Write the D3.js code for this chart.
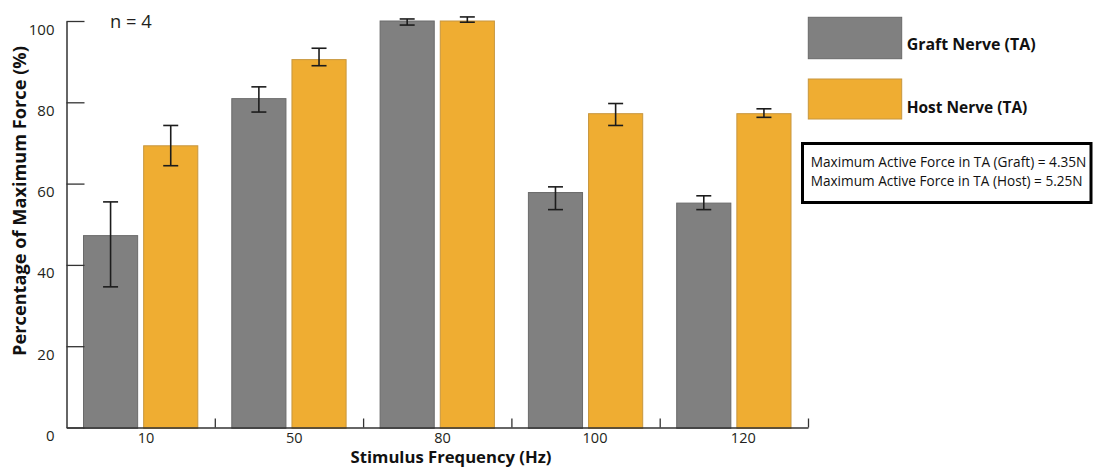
<!DOCTYPE html>
<html>
<head>
<meta charset="utf-8">
<script src="https://cdn.jsdelivr.net/npm/d3@7"></script>
<style>
  html, body { margin: 0; padding: 0; background: #fff; }
  svg { display: block; font-family: "Open Sans", "DejaVu Sans", sans-serif; }
</style>
</head>
<body>
<svg id="chart" width="1093" height="468"></svg>
<script>
// Stimulus frequencies (Hz)
const categories = ["10", "50", "80", "100", "120"];
const seriesNames = ["Graft Nerve (TA)", "Host Nerve (TA)"];

// Mean percentage of maximum force
const graftMean = [47.2, 80.9, 100.0, 57.8, 55.2];
const hostMean  = [69.3, 90.5, 100.0, 77.2, 77.2];

// Error bar ends (lower / upper)
const graftErrLow  = [34.6, 77.6, 99.0, 53.6, 53.6];
const graftErrHigh = [55.5, 83.8, 100.5, 59.2, 57.0];
const hostErrLow   = [64.4, 89.0, 99.7, 74.3, 76.3];
const hostErrHigh  = [74.3, 93.3, 101.0, 79.7, 78.4];

const yTicks = [0, 20, 40, 60, 80, 100];

const infoLines = [
  "Maximum Active Force in TA (Graft) = 4.35N",
  "Maximum Active Force in TA (Host) = 5.25N"
];

const colors = { "Graft Nerve (TA)": "#808080", "Host Nerve (TA)": "#EFAD32" };
const edges  = { "Graft Nerve (TA)": "#6a6a6a", "Host Nerve (TA)": "#c7963e" };

const svg = d3.select("#chart");

const plot = { left: 66.5, right: 808, top: 21, bottom: 427.5 };

const x0 = d3.scaleBand().domain(categories).range([plot.left, plot.right]).padding(0);
const groupPad = 17;
const x1 = d3.scaleBand().domain(seriesNames)
  .range([groupPad, x0.bandwidth() - groupPad]).paddingInner(0.1).paddingOuter(0);
const y = d3.scaleLinear().domain([0, 100]).range([plot.bottom, plot.top]);

const rows = [];
categories.forEach((c, i) => {
  rows.push({ cat: c, s: seriesNames[0], v: graftMean[i], lo: graftErrLow[i], hi: graftErrHigh[i] });
  rows.push({ cat: c, s: seriesNames[1], v: hostMean[i], lo: hostErrLow[i], hi: hostErrHigh[i] });
});

// bars
svg.append("g").selectAll("rect").data(rows).join("rect")
  .attr("x", d => x0(d.cat) + x1(d.s))
  .attr("y", d => y(d.v))
  .attr("width", x1.bandwidth())
  .attr("height", d => y(0) - y(d.v) + 0.8)
  .attr("fill", d => colors[d.s])
  .attr("stroke", d => edges[d.s])
  .attr("stroke-width", 1);

// error bars
const capW = 15;
const eb = svg.append("g").attr("stroke", "#1c1c1c").attr("stroke-width", 1.6).attr("fill", "none");
rows.forEach(d => {
  const cx = x0(d.cat) + x1(d.s) + x1.bandwidth() / 2;
  eb.append("line").attr("x1", cx).attr("x2", cx).attr("y1", y(d.lo)).attr("y2", y(d.hi));
  eb.append("line").attr("x1", cx - capW / 2).attr("x2", cx + capW / 2).attr("y1", y(d.lo)).attr("y2", y(d.lo));
  eb.append("line").attr("x1", cx - capW / 2).attr("x2", cx + capW / 2).attr("y1", y(d.hi)).attr("y2", y(d.hi));
});

// y axis: ticks point inward
const yAxis = svg.append("g")
  .attr("transform", `translate(${plot.left},0)`)
  .call(d3.axisLeft(y).tickValues(yTicks).tickSize(-18).tickSizeOuter(0).tickPadding(12));
yAxis.select(".domain").attr("stroke", "#333").attr("stroke-width", 1.5);
yAxis.selectAll(".tick line").attr("stroke", "#333").attr("stroke-width", 1.3);
yAxis.selectAll(".tick text")
  .attr("dy", null).attr("y", 7)
  .attr("dominant-baseline", "central")
  .attr("fill", "#231f20")
  .style("font-size", "15px")
  .style("font-family", "'Open Sans', sans-serif");

// x axis: group separators ticks
const xi = d3.scaleLinear().domain([0, categories.length]).range([plot.left, plot.right]);
const xAxis = svg.append("g")
  .attr("transform", `translate(0,${plot.bottom})`)
  .call(d3.axisBottom(xi).tickValues(d3.range(1, categories.length + 1)).tickSize(-9).tickSizeOuter(0).tickFormat(""));
xAxis.select(".domain").attr("stroke", "#333").attr("stroke-width", 1.5);
xAxis.selectAll(".tick line").attr("stroke", "#333").attr("stroke-width", 1.3);

// category labels
svg.append("g").selectAll("text").data(categories).join("text")
  .attr("x", d => x0(d) + x0.bandwidth() / 2 - 3)
  .attr("y", 437)
  .attr("dominant-baseline", "central")
  .attr("fill", "#231f20")
  .style("font-size", "14.5px")
  .text(d => d);

// axis titles
svg.append("text")
  .attr("x", 451).attr("y", 456.5)
  .attr("text-anchor", "middle").attr("dominant-baseline", "central")
  .style("font-weight", "bold").style("font-size", "14.5px").attr("fill", "#111")
  .text("Stimulus Frequency (Hz)");

svg.append("text")
  .attr("transform", "translate(18.5,201) rotate(-90)")
  .attr("text-anchor", "middle").attr("dominant-baseline", "central")
  .style("font-weight", "bold").style("font-size", "14.5px").attr("fill", "#111")
  .text("Percentage of Maximum Force (%)");

// sample size
svg.append("text")
  .attr("x", 110).attr("y", 20).attr("dominant-baseline", "central")
  .style("font-size", "16px").attr("fill", "#231f20")
  .text("n = 4");

// legend
const legend = svg.append("g");
const legendRows = [
  { s: seriesNames[0], y: 17.3, h: 41.4, ty: 44.3 },
  { s: seriesNames[1], y: 79, h: 40, ty: 106.7 }
];
legendRows.forEach(r => {
  legend.append("rect")
    .attr("x", 808.3).attr("y", r.y).attr("width", 93.4).attr("height", r.h)
    .attr("fill", colors[r.s]).attr("stroke", edges[r.s]).attr("stroke-width", 1);
  legend.append("text")
    .attr("x", 906.7).attr("y", r.ty).attr("dominant-baseline", "central")
    .style("font-weight", "bold").style("font-size", "14.5px").attr("fill", "#111")
    .text(r.s);
});

// info box
const info = svg.append("g");
info.append("rect")
  .attr("x", 802.5).attr("y", 143.5).attr("width", 288.5).attr("height", 59)
  .attr("fill", "#fff").attr("stroke", "#000").attr("stroke-width", 3);
info.selectAll("text").data(infoLines).join("text")
  .attr("x", 810.7).attr("y", (d, i) => 161 + i * 19)
  .attr("dominant-baseline", "central")
  .style("font-size", "13.5px").attr("fill", "#111")
  .text(d => d);

// fit text widths to their layout slots
function fit(sel, w) {
  const node = sel.node();
  const cur = parseFloat(sel.style("font-size"));
  const len = node.getComputedTextLength();
  if (len > 0) sel.style("font-size", (cur * w / len).toFixed(2) + "px");
}
svg.selectAll("text").each(function () {
  const t = d3.select(this);
  const s = t.text();
  const targets = {
    "Stimulus Frequency (Hz)": 201,
    "Percentage of Maximum Force (%)": 310,
    "Graft Nerve (TA)": 129,
    "Host Nerve (TA)": 120.7,
    "n = 4": 41.7,
    "Maximum Active Force in TA (Graft) = 4.35N": 276,
    "Maximum Active Force in TA (Host) = 5.25N": 272
  };
  if (targets[s]) fit(t, targets[s]);
});
</script>
</body>
</html>
